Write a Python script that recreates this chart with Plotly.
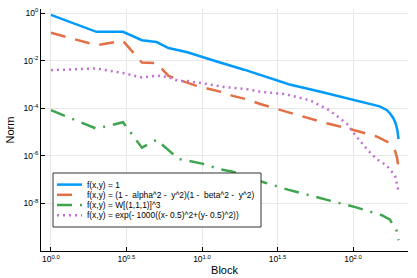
import plotly.graph_objects as go

# ---- data ----
x_blue = [1, 2, 3, 4, 5, 6, 8, 10, 13, 19, 38, 60, 100, 130, 150, 167, 176, 185, 192, 197, 200]
y_blue = [0.832, 0.162, 0.162, 0.0724, 0.0603, 0.0339, 0.0224, 0.0148, 0.00851, 0.00417,
          1.0e-3, 5.0e-4, 2.29e-4, 1.58e-4, 1.2e-4, 8.5e-5, 6.0e-5, 3.8e-5, 2.24e-5, 1.12e-5, 5.0e-6]

x_orange = [1, 2, 3, 4, 5, 6, 7, 9, 11, 13, 16, 20, 24, 29, 36, 63, 95, 143, 176, 190, 196, 200]
y_orange = [0.148, 0.0447, 0.0676, 0.00832, 0.00794, 0.00229, 0.00158, 9.1e-4, 6.6e-4, 5.1e-4,
            3.3e-4, 2.34e-4, 1.55e-4, 1.12e-4, 7.2e-5, 2.57e-5, 1.35e-5, 6.5e-6, 3.4e-6,
            1.58e-6, 7.9e-7, 3.2e-7]

x_green = [1, 2, 3, 4, 5, 6, 7, 8, 10, 13, 16, 19, 25, 37, 53, 72, 105, 155, 175, 194, 200]
y_green = [8.3e-5, 1.38e-5, 2.57e-5, 2.19e-6, 4.7e-6, 1.78e-6, 7.4e-7, 6.3e-7, 4.7e-7, 2.8e-7,
           2.14e-7, 1.51e-7, 8.1e-8, 3.8e-8, 2.04e-8, 1.26e-8, 6.8e-9, 3.2e-9, 2.14e-9,
           7.4e-10, 2.8e-10]

x_purple = [1, 2, 3, 4, 5, 6, 7, 8, 10, 11, 14, 20, 25, 35, 52, 70, 91, 105, 126, 143, 167, 190, 200]
y_purple = [3.98e-3, 4.68e-3, 3.02e-3, 1.95e-3, 2.34e-3, 2.04e-3, 1.38e-3, 1.38e-3, 1.12e-3,
            1.0e-3, 7.8e-4, 6.3e-4, 4.8e-4, 4.0e-4, 2.14e-4, 8.1e-5, 2.24e-5, 6.6e-6,
            1.66e-6, 7.4e-7, 3.9e-7, 1.45e-7, 3.2e-8]

names = [
    "f(x,y) = 1",
    "f(x,y) = (1 -\u00a0 alpha^2 -\u00a0 y^2)(1 -\u00a0 beta^2 -\u00a0 y^2)",
    "f(x,y) = W[(1,1,1)]^3",
    "f(x,y) = exp(- 1000((x- 0.5)^2+(y- 0.5)^2))",
]

x_tickvals = [1, 10 ** 0.5, 10, 10 ** 1.5, 100]
x_ticktext = ["10<sup>0.0</sup>", "10<sup>0.5</sup>", "10<sup>1.0</sup>", "10<sup>1.5</sup>", "10<sup>2.0</sup>"]
y_tickvals = [1, 1e-2, 1e-4, 1e-6, 1e-8]
y_ticktext = ["10<sup>0</sup>", "10<sup>-2</sup>", "10<sup>-4</sup>", "10<sup>-6</sup>", "10<sup>-8</sup>"]

# ---- styles ----
colors = ["#009AFA", "#E36F47", "#3EA44E", "#C271D2"]
dashes = ["solid", "15px,10px", "15px,8px,2px,8px", "2px,4px"]
LW = 2.5
FONT = "Liberation Sans, Arial, sans-serif"

fig = go.Figure()
series = [(x_blue, y_blue), (x_orange, y_orange), (x_green, y_green), (x_purple, y_purple)]
for (xs, ys), nm, c, d in zip(series, names, colors, dashes):
    fig.add_trace(go.Scatter(x=xs, y=ys, mode="lines", name=nm, showlegend=False,
                             line=dict(color=c, width=LW, dash=d)))

# plot area in pixels
W, H = 417, 278
L, R, T, B = 41, 408, 9, 251


def px(xpix):
    return (xpix - L) / (R - L)


def py(ypix):
    return (B - ypix) / (B - T)


# manual legend (compact like the reference)
shapes = [dict(type="rect", xref="paper", yref="paper", x0=px(53), x1=px(261), y0=py(227), y1=py(173),
               line=dict(color="#333333", width=1), fillcolor="white", layer="above")]
annotations = []
rows = [184.6, 194.8, 205.0, 215.2]
for nm, c, d, r in zip(names, colors, dashes, rows):
    shapes.append(dict(type="line", xref="paper", yref="paper", x0=px(57), x1=px(82), y0=py(r), y1=py(r),
                       line=dict(color=c, width=LW, dash=d), layer="above"))
    annotations.append(dict(xref="paper", yref="paper", x=px(85), y=py(r), text=nm, showarrow=False,
                            xanchor="left", yanchor="middle", font=dict(family=FONT, size=8.4, color="black")))

fig.update_layout(
    width=W, height=H,
    margin=dict(l=L, r=W - R, t=T, b=H - B, pad=0, autoexpand=False),
    paper_bgcolor="white", plot_bgcolor="white",
    font=dict(family=FONT, color="black"),
    shapes=shapes, annotations=annotations,
    xaxis=dict(type="log", range=[-0.066, 2.364], tickvals=x_tickvals, ticktext=x_ticktext,
               automargin=False,
               showline=True, linecolor="black", linewidth=1, mirror=False,
               ticks="inside", ticklen=4, tickcolor="black",
               showgrid=True, gridcolor="#e8e8e8", gridwidth=0.8, zeroline=False,
               tickfont=dict(family=FONT, size=8.5),
               title=dict(text="Block", font=dict(family=FONT, size=11), standoff=2)),
    yaxis=dict(type="log", range=[-10.0, 0.17], tickvals=y_tickvals, ticktext=y_ticktext,
               automargin=False,
               showline=True, linecolor="black", linewidth=1, mirror=False,
               ticks="inside", ticklen=4, tickcolor="black",
               showgrid=True, gridcolor="#e8e8e8", gridwidth=0.8, zeroline=False,
               tickfont=dict(family=FONT, size=8.5),
               title=dict(text="Norm", font=dict(family=FONT, size=11), standoff=6)),
)

fig.write_html("out.html", config={"displayModeBar": False},
               post_script="document.body.style.margin='0';document.body.style.padding='0';")
